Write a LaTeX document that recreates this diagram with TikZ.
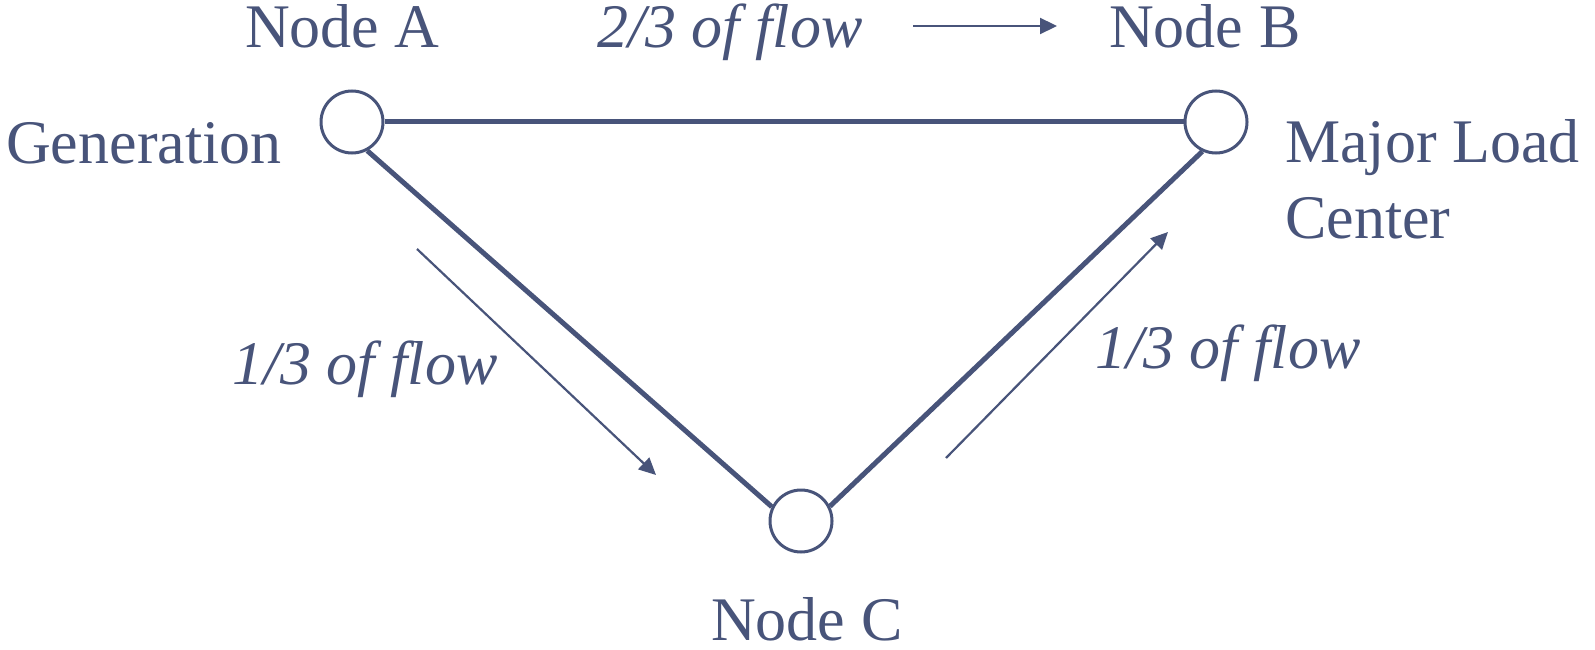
\documentclass[tikz,border=0pt]{standalone}
\usepackage{fontspec}
\setmainfont{Liberation Serif}
\usetikzlibrary{arrows.meta}
\definecolor{ink}{RGB}{72,84,122}
\begin{document}
\begin{tikzpicture}[x=1pt,y=-1pt,
  bus/.style={circle,draw=ink,line width=3pt,fill=white,minimum size=62pt,inner sep=0pt},
  lbl/.style={inner sep=0pt,anchor=base west,text=ink,font=\fontsize{62}{76}\selectfont},
  flbl/.style={lbl,font=\fontsize{62}{76}\selectfont\itshape},
  tline/.style={draw=ink,line width=5pt},
  farrow/.style={draw=ink,line width=2.2pt,-{Triangle[length=17pt,width=16pt]}}]
\useasboundingbox (0,0) rectangle (1595,650);
\node[bus] (A) at (352,122) {};
\node[bus] (B) at (1216,122) {};
\node[bus] (C) at (801,521) {};
\draw[tline] (A.east) -- (B.west);
\draw[tline] (A.-62) -- (C.154);
\draw[tline] (C.27) -- (B.245);
\node[lbl] (tA) at (245,48) {Node A};
\node[lbl] (tB) at (1109,48) {Node B};
\node[lbl] (tC) at (711,640) {Node C};
\node[lbl] (tG) at (6,163) {Generation};
\node[lbl] (tM1) at (1285,162) {Major Load};
\node[lbl] (tM2) at (1285,238) {Center};
\node[flbl] (f1) at (597,48) {2/3 of flow};
\node[flbl] (f2) at (232,384) {1/3 of flow};
\node[flbl] (f3) at (1095,368) {1/3 of flow};
\coordinate (a1s) at (913,26);
\coordinate (a1e) at (1057,26);
\coordinate (a2s) at (417,249);
\coordinate (a2e) at (656,475);
\coordinate (a3s) at (946,458);
\coordinate (a3e) at (1168,232);
\draw[farrow] (a1s) -- (a1e);
\draw[farrow] (a2s) -- (a2e);
\draw[farrow] (a3s) -- (a3e);
\end{tikzpicture}
\end{document}
